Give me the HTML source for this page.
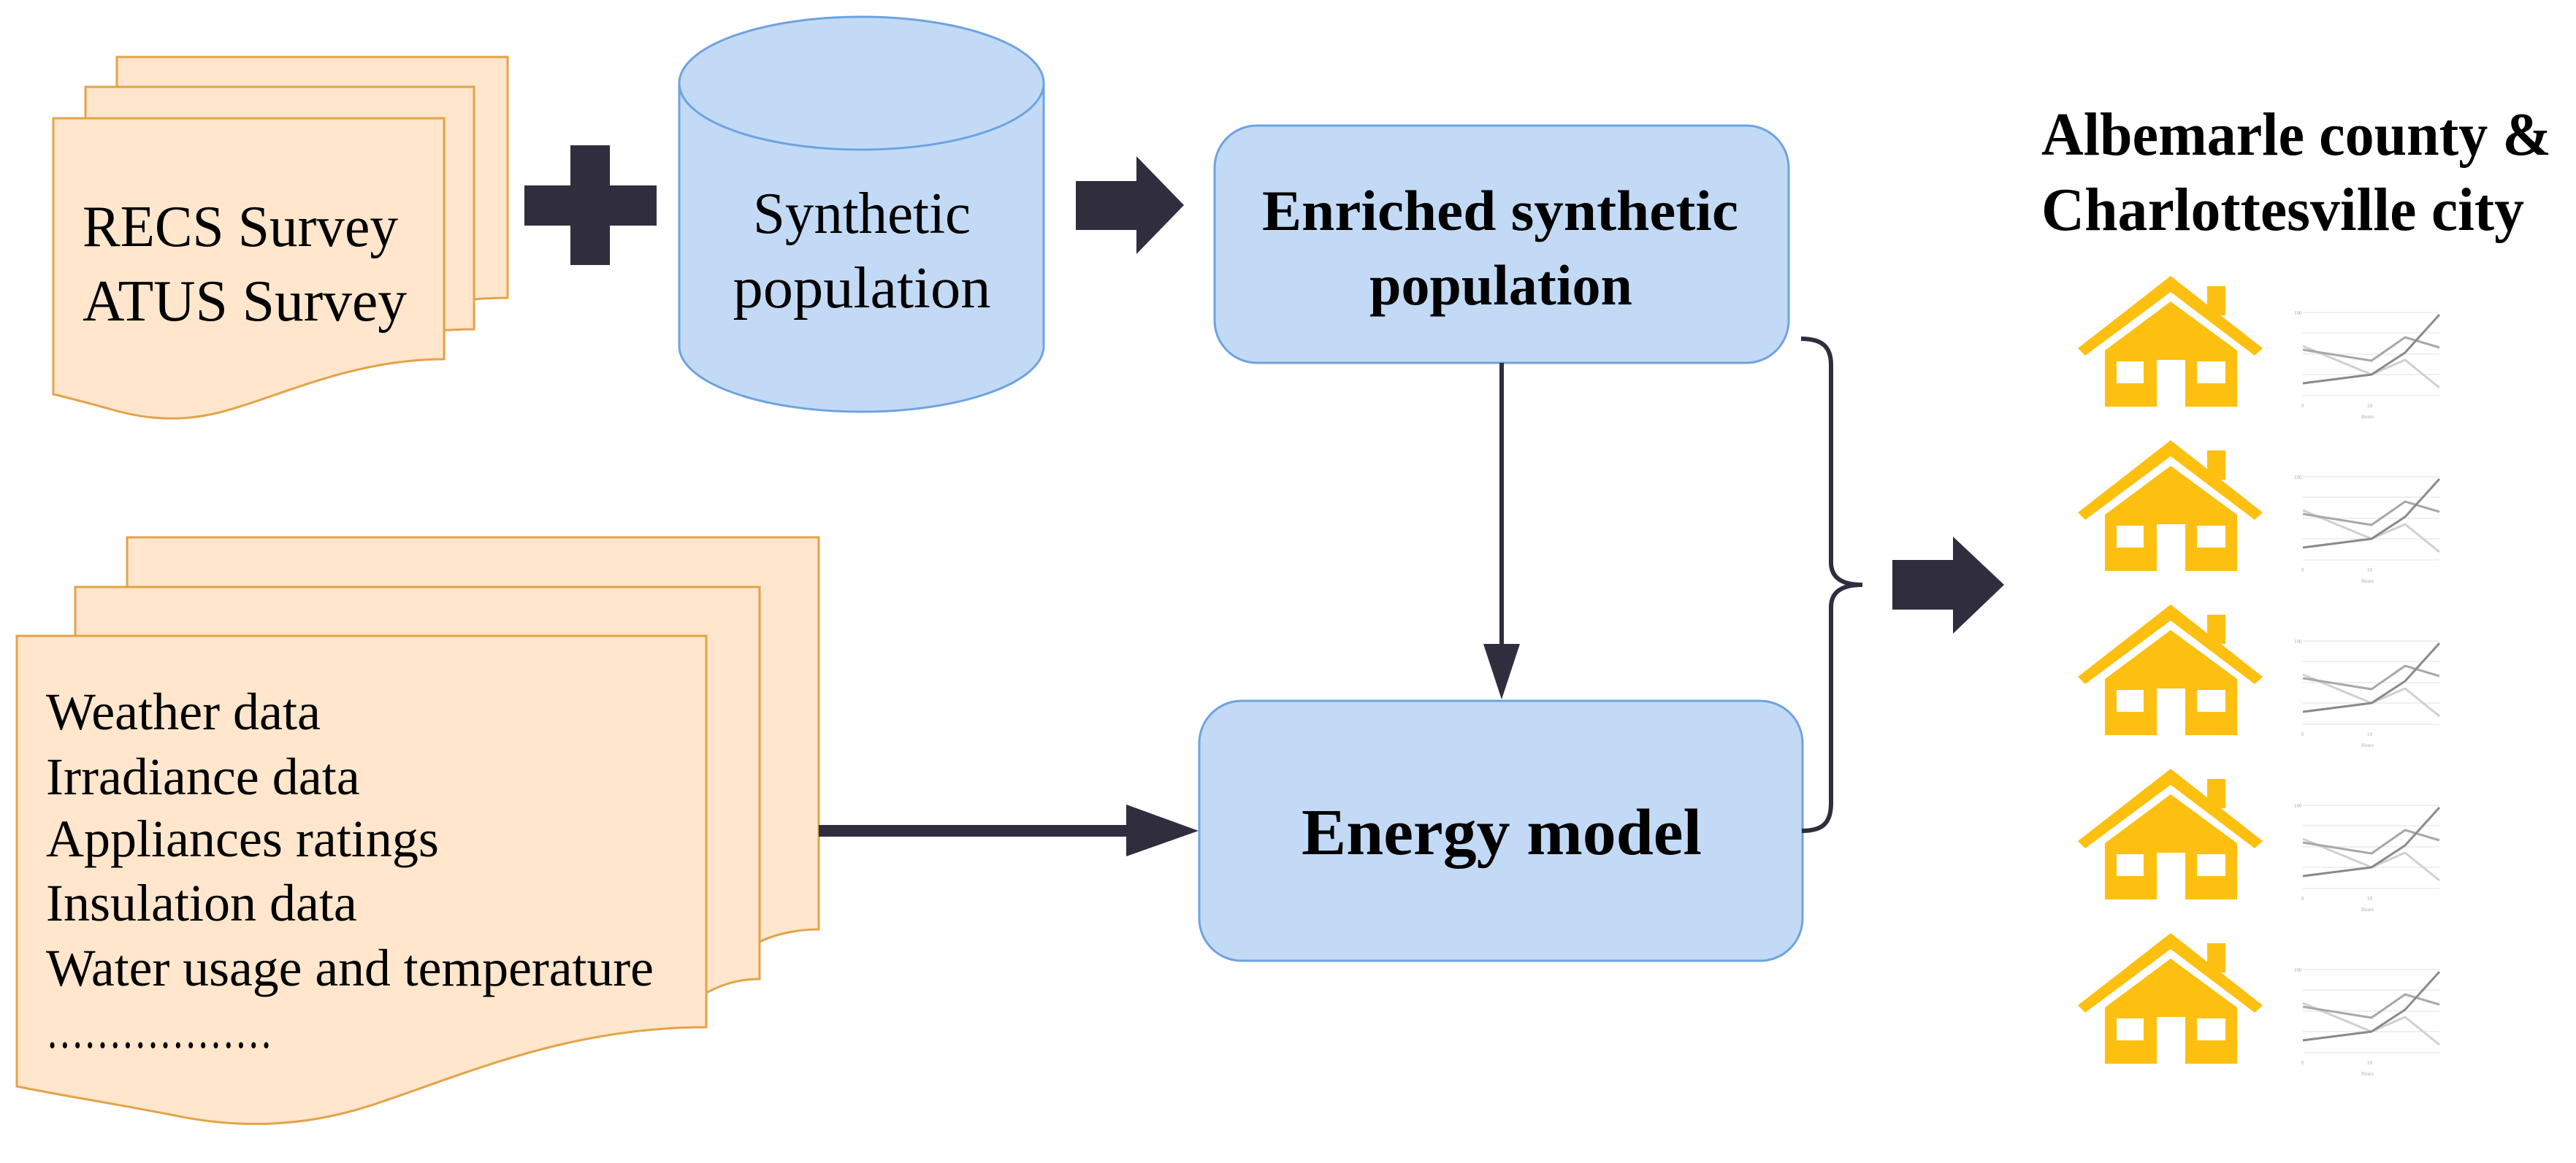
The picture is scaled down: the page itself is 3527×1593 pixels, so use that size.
<!DOCTYPE html>
<html><head><meta charset="utf-8"><style>
html,body{margin:0;padding:0;background:#fff;}
svg{display:block;}
text{font-family:"Liberation Serif",serif;fill:#000;}
.b{font-weight:bold;}
</style></head><body>
<svg width="3527" height="1593" viewBox="0 0 3527 1593" xmlns="http://www.w3.org/2000/svg">
<defs>
<g id="house">
  <polygon fill="#fdc010" points="0,100 127,1 253,100 242,110 127,23 10,110"/>
  <rect fill="#fdc010" x="177" y="15" width="25" height="40"/>
  <polygon fill="#fdc010" points="37,103 127,36 218,103 218,180 147,180 147,116 108,116 108,180 37,180"/>
  <rect fill="#fff" x="53" y="118" width="37" height="30"/>
  <rect fill="#fff" x="163" y="118" width="39" height="30"/>
  <g transform="translate(308,51)">
    <g stroke="#ececec" stroke-width="1.5">
      <line x1="0" y1="0" x2="187" y2="0"/><line x1="0" y1="28" x2="187" y2="28"/>
      <line x1="0" y1="57" x2="187" y2="57"/><line x1="0" y1="85" x2="187" y2="85"/>
      <line x1="0" y1="114" x2="187" y2="114"/>
    </g>
    <polyline fill="none" stroke="#d0d0d0" stroke-width="3" points="0,46 94,85 140,65 187,103"/>
    <polyline fill="none" stroke="#a8a8a8" stroke-width="3" points="0,51 94,66 140,34 187,48"/>
    <polyline fill="none" stroke="#8a8a8a" stroke-width="3" points="0,97 94,85 140,55 187,3"/>
    <g fill="#bbb" font-size="7">
      <text x="-12" y="3" style="fill:#aaa">100</text>
      <text x="-2" y="130" style="fill:#aaa">0</text>
      <text x="88" y="130" style="fill:#aaa">10</text>
      <text x="80" y="145" style="fill:#aaa">Hours</text>
    </g>
  </g>
</g>
</defs>

<!-- Top documents -->
<g fill="#ffe6cc" stroke="#e3a348" stroke-width="3">
  <path d="M160,78 H695 V408 C600,408 560,430 520,450 L160,450 Z"/>
  <path d="M117,119 H649 V451 C560,451 520,470 480,490 L117,490 Z"/>
  <path d="M73,162 H608 V492 C480,492 380,545 300,565 C240,580 190,572 150,560 C120,552 95,545 73,540 Z"/>
</g>
<text x="113" y="337" font-size="80" textLength="432" lengthAdjust="spacingAndGlyphs">RECS Survey</text>
<text x="113" y="439" font-size="80" textLength="444" lengthAdjust="spacingAndGlyphs">ATUS Survey</text>

<!-- Plus -->
<g fill="#2f2d3e">
  <rect x="781" y="199" width="54" height="164"/>
  <rect x="718" y="254" width="181" height="55"/>
</g>

<!-- Cylinder -->
<g fill="#c3daf6" stroke="#6ea3e0" stroke-width="3">
  <path d="M930,114 V474 A249.5,90 0 0 0 1429,474 V114"/>
  <ellipse cx="1179.5" cy="114" rx="249.5" ry="91"/>
</g>
<text x="1180" y="319" font-size="80" text-anchor="middle" textLength="298" lengthAdjust="spacingAndGlyphs">Synthetic</text>
<text x="1180" y="421" font-size="80" text-anchor="middle" textLength="353" lengthAdjust="spacingAndGlyphs">population</text>

<!-- Arrow 1 -->
<polygon fill="#2f2d3e" points="1473,248 1556,248 1556,214 1621,281 1556,348 1556,315 1473,315"/>

<!-- Enriched box -->
<rect x="1663" y="172" width="786" height="325" rx="58" ry="58" fill="#c3daf6" stroke="#6ea3e0" stroke-width="3"/>
<text class="b" x="1728" y="315" font-size="78" textLength="652" lengthAdjust="spacingAndGlyphs">Enriched synthetic</text>
<text class="b" x="2055" y="417" font-size="78" text-anchor="middle">population</text>

<!-- vertical arrow -->
<line x1="2056" y1="497" x2="2056" y2="890" stroke="#2f2d3e" stroke-width="6"/>
<polygon fill="#2f2d3e" points="2031,882 2081,882 2056,958"/>

<!-- Energy model -->
<rect x="1642" y="960" width="826" height="356" rx="58" ry="58" fill="#c3daf6" stroke="#6ea3e0" stroke-width="3"/>
<text class="b" x="1782" y="1170" font-size="90" textLength="548" lengthAdjust="spacingAndGlyphs">Energy model</text>

<!-- Bottom documents -->
<g fill="#ffe6cc" stroke="#e3a348" stroke-width="3">
  <path d="M174,736 H1121 V1273 C1090,1273 1060,1280 1040,1290 L174,1290 Z"/>
  <path d="M103,804 H1040 V1341 C1010,1341 985,1350 967,1360 L103,1360 Z"/>
  <path d="M23,871 H967 V1407 C780,1407 640,1470 520,1510 C420,1545 330,1545 250,1530 C160,1512 80,1500 23,1488 Z"/>
</g>
<g font-size="72">
  <text x="63" y="999">Weather data</text>
  <text x="63" y="1088">Irradiance data</text>
  <text x="63" y="1173">Appliances ratings</text>
  <text x="63" y="1261">Insulation data</text>
  <text x="63" y="1350" textLength="832" lengthAdjust="spacingAndGlyphs">Water usage and temperature</text>
  <text x="63" y="1435" textLength="310" lengthAdjust="spacingAndGlyphs">………………</text>
</g>

<!-- horizontal arrow -->
<rect x="1121" y="1130" width="425" height="16" fill="#2f2d3e"/>
<polygon fill="#2f2d3e" points="1542,1102 1641,1138 1542,1173"/>

<!-- Brace -->
<path d="M2466,464 C2495,464 2507,475 2507,500 V770 C2507,790 2520,801 2550,801 C2520,801 2507,812 2507,832 V1100 C2507,1128 2495,1138 2467,1138" fill="none" stroke="#2f2d3e" stroke-width="6"/>

<!-- Big arrow -->
<polygon fill="#2f2d3e" points="2591,767 2674,767 2674,735 2744,801 2674,868 2674,835 2591,835"/>

<!-- Title -->
<text class="b" x="2795" y="212" font-size="84" textLength="698" lengthAdjust="spacingAndGlyphs">Albemarle county &amp;</text>
<text class="b" x="2795" y="315" font-size="84" textLength="661" lengthAdjust="spacingAndGlyphs">Charlottesville city</text>

<!-- Houses -->
<use href="#house" transform="translate(2845,377)"/>
<use href="#house" transform="translate(2845,602)"/>
<use href="#house" transform="translate(2845,827)"/>
<use href="#house" transform="translate(2845,1052)"/>
<use href="#house" transform="translate(2845,1277)"/>
</svg>
</body></html>
